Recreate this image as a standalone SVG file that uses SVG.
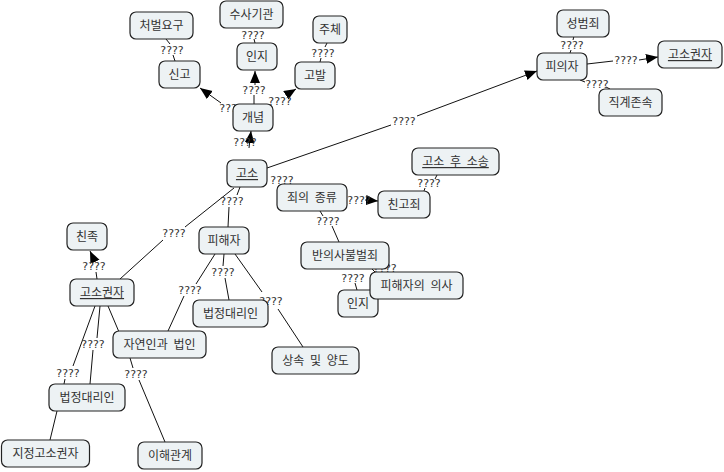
<svg xmlns="http://www.w3.org/2000/svg" width="724" height="472" viewBox="0 0 724 472">
<defs>
<marker id="arr" markerUnits="userSpaceOnUse" markerWidth="13" markerHeight="11" refX="12" refY="5" orient="auto">
<path d="M0,0 L12,5 L0,10 z" fill="#000"/>
</marker>
<style>
.n rect{fill:#edf2f4;stroke:#222;stroke-width:1.2}
.n text{font-family:"Noto Sans CJK KR","Noto Sans",sans-serif;font-size:12px;fill:#333;text-anchor:middle;word-spacing:3px}
.u{text-decoration:underline}
.c path{fill:none;stroke:#111;stroke-width:1}
.c path.a{marker-end:url(#arr)}
.c text{font-family:"DejaVu Sans",sans-serif;font-size:11px;fill:#333;text-anchor:middle}
</style>
</defs>
<rect width="724" height="472" fill="#fff"/>
<g id="connectors" class="c">
<!-- 고소 -> 개념 -->
<path class="a" d="M249,148 L251,131"/><text x="245" y="146">????</text>
<!-- 개념 -> 신고 -->
<path class="a" d="M221,103 L200,88"/><text x="231" y="112">????</text>
<!-- 개념 -> 인지 -->
<path d="M254,104 L254,95"/><path class="a" d="M255,85 L255,71"/><text x="254" y="94">????</text>
<!-- 개념 -> 고발 -->
<path class="a" d="M288,94 L296,89"/><text x="280" y="105">????</text>
<!-- 신고 - 처벌요구 -->
<path d="M175,61 L173,55 M170,44 L166,39"/><text x="172" y="54">????</text>
<!-- 인지 - 수사기관 -->
<path d="M255,43 L254,39"/><text x="253" y="39">????</text>
<!-- 고발 - 주체 -->
<path d="M320,62 L321,58 M325,47 L327,43"/><text x="323" y="57">????</text>
<!-- 고소 -> 피의자 -->
<path d="M267,168 L391,125"/><path class="a" d="M417,116 L537,71"/><text x="404" y="125">????</text>
<!-- 성범죄 - 피의자 -->
<path d="M574,36 L573,40 M571,50 L570,53"/><text x="572" y="49">????</text>
<!-- 피의자 -> 고소권자 -->
<path d="M587,64 L613,61"/><path class="a" d="M639,60 L658,57"/><text x="626" y="64">????</text>
<!-- 피의자 - 직계존속 -->
<path d="M580,80 L585,82 M606,87 L610,89"/><text x="597" y="88">????</text>
<!-- 고소 - 죄의 종류 -->
<text x="282" y="184">????</text>
<!-- 죄의 종류 -> 친고죄 -->
<path class="a" d="M365,200 L378,201"/><text x="359" y="204">????</text>
<!-- 친고죄 - 고소 후 소송 -->
<path d="M437,175 L435,179 M425,188 L424,191"/><text x="429" y="187">????</text>
<!-- 죄의 종류 - 반의사불벌죄 -->
<path d="M320,211 L323,216 M332,226 L339,242"/><text x="328" y="225">????</text>
<!-- 반의사불벌죄 - 인지 -->
<path d="M355,283 L357,290"/><text x="353" y="282">????</text>
<!-- 반의사불벌죄 - 피해자의 의사 -->
<path d="M372,269 L375,272"/><text x="385" y="272">????</text>
<!-- 고소 - 고소권자 -->
<path d="M234,188 L185,227 M163,240 L120,279"/><text x="174" y="237">????</text>
<!-- 고소 - 피해자 -->
<path d="M240,187 L237,195 M229,207 L228,227"/><text x="232" y="205">????</text>
<!-- 고소권자 -> 친족 -->
<path d="M97,279 L96,272"/><path class="a" d="M95,262 L90,251"/><text x="94" y="270">????</text>
<!-- 고소권자 - 자연인과 법인 -->
<path d="M108,306 L119,332"/>
<!-- 고소권자 - 법정대리인 (1) -->
<path d="M95,306 L73,366 M65,379 L64,384"/><text x="68" y="377">????</text>
<!-- 고소권자 - 법정대리인 (2) -->
<path d="M100,306 L97,338 M93,350 L90,384"/><text x="93" y="348">????</text>
<!-- 법정대리인 - 지정고소권자 -->
<path d="M57,411 L50,440"/>
<!-- 자연인과 법인 - 이해관계 -->
<path d="M130,358 L133,368 M139,380 L165,442"/><text x="136" y="378">????</text>
<!-- 피해자 - 자연인과 법인 -->
<path d="M215,254 L196,284 M184,296 L168,331"/><text x="190" y="294">????</text>
<!-- 피해자 - 법정대리인 -->
<path d="M224,254 L223,266 M225,278 L229,300"/><text x="223" y="276">????</text>
<!-- 피해자 - 상속 및 양도 -->
<path d="M235,254 L262,292 M278,309 L303,347"/><text x="271" y="305">????</text>
</g>
<g id="n-cheobeol" class="n"><rect x="130" y="12" width="63" height="27" rx="6"/><text x="161.5" y="30">처벌요구</text></g>
<g id="n-susa" class="n"><rect x="220" y="1" width="63" height="27" rx="6"/><text x="251.5" y="19">수사기관</text></g>
<g id="n-juche" class="n"><rect x="313" y="16" width="34" height="27" rx="6"/><text x="330" y="34">주체</text></g>
<g id="n-singo" class="n"><rect x="159" y="61" width="41" height="27" rx="6"/><text x="179.5" y="79">신고</text></g>
<g id="n-inji1" class="n"><rect x="237" y="43" width="40" height="27" rx="6"/><text x="257" y="61">인지</text></g>
<g id="n-gobal" class="n"><rect x="295" y="62" width="40" height="27" rx="6"/><text x="315" y="80">고발</text></g>
<g id="n-gaenyeom" class="n"><rect x="233" y="104" width="40" height="27" rx="6"/><text x="253" y="122">개념</text></g>
<g id="n-goso" class="n"><rect x="227" y="160" width="40" height="27" rx="6"/><text class="u" x="247" y="178">고소</text></g>
<g id="n-seongbeom" class="n"><rect x="557" y="10" width="52" height="27" rx="6"/><text x="583" y="28">성범죄</text></g>
<g id="n-piui" class="n"><rect x="537" y="53" width="50" height="27" rx="6"/><text x="562" y="71">피의자</text></g>
<g id="n-gosogwon2" class="n"><rect x="658" y="41" width="64" height="27" rx="6"/><text class="u" x="690" y="59">고소권자</text></g>
<g id="n-jikgye" class="n"><rect x="599" y="89" width="63" height="27" rx="6"/><text x="630.5" y="107">직계존속</text></g>
<g id="n-gosohu" class="n"><rect x="412" y="148" width="87" height="27" rx="6"/><text class="u" x="455.5" y="166">고소 후 소송</text></g>
<g id="n-joe" class="n"><rect x="277" y="184" width="70" height="27" rx="6"/><text x="312" y="202">죄의 종류</text></g>
<g id="n-chingo" class="n"><rect x="378" y="191" width="52" height="27" rx="6"/><text x="404" y="209">친고죄</text></g>
<g id="n-banui" class="n"><rect x="301" y="242" width="88" height="27" rx="6"/><text x="345" y="260">반의사불벌죄</text></g>
<g id="n-inji2" class="n"><rect x="338" y="290" width="40" height="27" rx="6"/><text x="358" y="308">인지</text></g>
<g id="n-uisa" class="n"><rect x="370" y="272" width="93" height="27" rx="6"/><text x="416.5" y="290">피해자의 의사</text></g>
<g id="n-pihae" class="n"><rect x="199" y="227" width="50" height="27" rx="6"/><text x="224" y="245">피해자</text></g>
<g id="n-beopjeong1" class="n"><rect x="193" y="300" width="75" height="27" rx="6"/><text x="230.5" y="318">법정대리인</text></g>
<g id="n-sangsok" class="n"><rect x="272" y="347" width="87" height="27" rx="6"/><text x="315.5" y="365">상속 및 양도</text></g>
<g id="n-jayeon" class="n"><rect x="113" y="331" width="93" height="27" rx="6"/><text x="159.5" y="349">자연인과 법인</text></g>
<g id="n-chinjok" class="n"><rect x="67" y="223" width="40" height="27" rx="6"/><text x="87" y="241">친족</text></g>
<g id="n-gosogwon1" class="n"><rect x="70" y="279" width="64" height="27" rx="6"/><text class="u" x="102" y="297">고소권자</text></g>
<g id="n-beopjeong2" class="n"><rect x="49" y="384" width="76" height="27" rx="6"/><text x="87" y="402">법정대리인</text></g>
<g id="n-jijeong" class="n"><rect x="1.5" y="440" width="88" height="27" rx="6"/><text x="45.5" y="458">지정고소권자</text></g>
<g id="n-ihae" class="n"><rect x="138" y="442" width="64" height="27" rx="6"/><text x="170" y="460">이해관계</text></g>
</svg>
